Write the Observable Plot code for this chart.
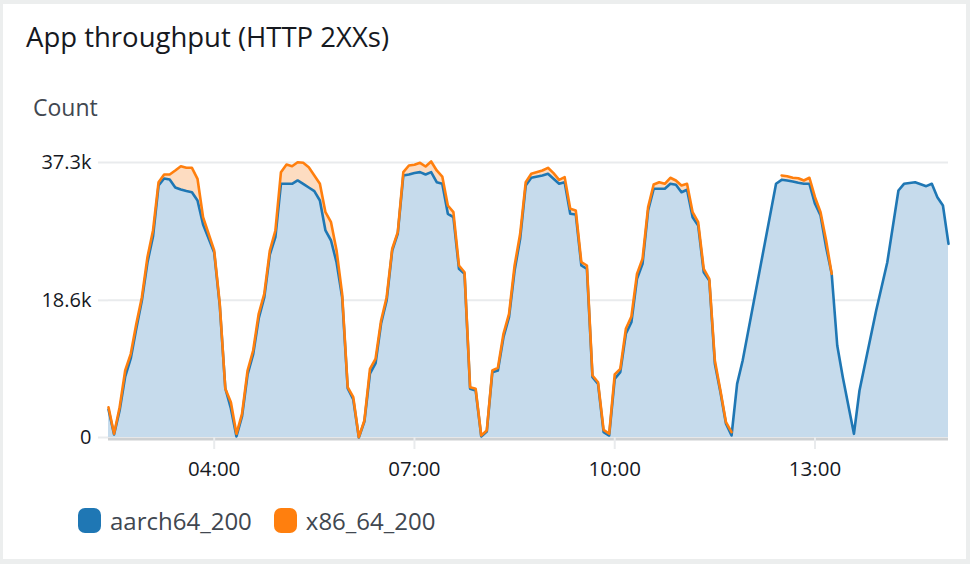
<!DOCTYPE html>
<html>
<head>
<meta charset="utf-8">
<script src="https://cdn.jsdelivr.net/npm/d3@7"></script>
<script src="https://cdn.jsdelivr.net/npm/@observablehq/plot@0.6"></script>
<style>
  html, body { margin: 0; padding: 0; width: 970px; height: 564px; overflow: hidden; background: #eceeee; font-family: "Open Sans", sans-serif; }
  #card { position: absolute; left: 3px; top: 4px; width: 963px; height: 555px; background: #fff; }
  #title { position: absolute; left: 26px; top: 23px; font-size: 27.5px; line-height: 1; color: #16191f; white-space: nowrap; }
  #ylabel { position: absolute; left: 33px; top: 96px; font-size: 23px; line-height: 1; color: #414750; white-space: nowrap; }
  #chart { position: absolute; left: 0; top: 140px; }
  #legend { position: absolute; left: 78px; top: 508px; display: flex; align-items: center; font-size: 24px; line-height: 1; color: #414750; }
  .item { display: flex; align-items: center; margin-right: 22px; }
  .sw { width: 23px; height: 25px; border-radius: 7px; margin-right: 9px; }
</style>
</head>
<body>
<div id="card"></div>
<div id="title">App throughput (HTTP 2XXs)</div>
<div id="ylabel">Count</div>
<div id="chart"></div>
<div id="legend"></div>
<script>
const times = [
  "02:25","02:30","02:35","02:40","02:45","02:50","02:55","03:00","03:05","03:10",
  "03:15","03:20","03:25","03:30","03:35","03:40","03:45","03:50","04:00","04:05",
  "04:10","04:15","04:20","04:25","04:30","04:35","04:40","04:45","04:50","04:55",
  "05:00","05:05","05:10","05:15","05:20","05:25","05:30","05:35","05:40","05:45",
  "05:50","05:55","06:00","06:05","06:10","06:15","06:20","06:25","06:30","06:35",
  "06:40","06:45","06:50","06:55","07:00","07:05","07:10","07:15","07:20","07:25",
  "07:30","07:35","07:40","07:45","07:50","07:55","08:00","08:05","08:10","08:15",
  "08:20","08:25","08:30","08:35","08:40","08:45","08:55","09:00","09:05","09:10",
  "09:15","09:20","09:25","09:30","09:35","09:40","09:45","09:50","09:55","10:00",
  "10:05","10:10","10:15","10:20","10:25","10:30","10:35","10:40","10:45","10:50",
  "10:55","11:00","11:05","11:10","11:15","11:20","11:25","11:30","11:35","11:40",
  "11:45","11:50","11:55","12:25","12:30","12:35","12:40","12:45","12:50","12:55",
  "13:00","13:05","13:10","13:15","13:20","13:25","13:35","13:40","13:45","13:55",
  "14:05","14:15","14:20","14:30","14:40","14:45","14:50","14:55","15:00"
];
const aarch64_200 = [
  3800,400,3660,8270,10720,14780,18580,23740,27260,34180,
  35130,35000,33910,33640,33440,33270,32150,28890,25090,17900,
  6650,3930,140,2850,8550,11260,16140,18990,24820,27170,
  34410,34410,34410,34860,34410,33910,33410,32150,28080,26720,
  23740,19030,6650,5150,0,2170,8680,10040,15460,18580,
  25360,27670,35540,35670,35880,35990,35670,35990,34630,34410,
  30340,29880,22880,22200,6610,6380,140,810,8860,9090,
  13600,16320,22650,26950,34180,35230,35540,35770,35090,34410,
  34630,30340,30250,23330,22880,8180,7280,720,270,7960,
  8860,14070,15640,21530,23560,30790,33730,33730,33730,34410,
  34280,33270,33600,29880,28760,22420,21300,10000,6140,1860,
  270,7280,10440,34410,34950,34860,34720,34550,34410,34410,
  31700,30110,25810,22200,12480,8180,500,6380,10000,17230,
  23780,33500,34410,34630,34090,34410,32590,31470,26270
];
const x86_64_200 = [
  4110,500,4110,9090,11350,15420,19030,24460,28080,34630,
  35670,35670,36220,36800,36580,36580,35090,29880,25360,18140,
  6610,4790,500,3210,9090,11800,16780,19490,25360,28080,
  35990,37030,36800,37340,37260,36660,35540,34410,30560,29200,
  25360,19490,6820,5470,40,2310,9320,10670,15870,19030,
  25600,27850,35990,36890,36990,37260,36760,37440,36220,35400,
  31470,30560,23330,22420,6820,6610,270,950,9090,9450,
  14070,16780,23330,27630,34630,35770,36220,36580,35850,34950,
  35310,31020,30790,23780,23330,8410,7500,1040,500,8550,
  9320,14740,16410,22200,24240,31240,34320,34630,34410,35230,
  34860,34180,34410,30560,29200,22880,21530,10440,6380,2080,
  720,null,null,null,35540,35440,35230,35170,34860,35230,
  32590,30560,26720,22200,null,null,null,null,null,null,
  null,null,null,null,null,null,null,null,null
];
const seriesNames = ["aarch64_200", "x86_64_200"];
const seriesColors = ["#1f77b4", "#ff7f0e"];
const yTicks = [0, 18600, 37300];
const yTickLabels = ["0", "18.6k", "37.3k"];
const xTicks = ["04:00", "07:00", "10:00", "13:00"];
const xDomain = ["02:25", "15:00"];

const toDate = s => { const [h, m] = s.split(":").map(Number); return new Date(Date.UTC(2024, 0, 1, h, m)); };
const rows = times.map((t, i) => ({ t: toDate(t), a: aarch64_200[i], b: x86_64_200[i] }));

const chart = Plot.plot({
  width: 970,
  height: 350,
  marginLeft: 108,
  marginRight: 22,
  marginTop: 22,
  marginBottom: 53,
  style: { fontFamily: "Open Sans", fontSize: "20px", color: "#16191f", background: "transparent", overflow: "visible" },
  x: { type: "utc", domain: xDomain.map(toDate) },
  y: { domain: [0, 37300] },
  marks: [
    Plot.ruleY(yTicks.slice(1), { stroke: "#e9ebed", strokeWidth: 2 }),
    Plot.areaY(rows, { x: "t", y: "b", fill: "#fddcc1" }),
    Plot.areaY(rows, { x: "t", y: "a", fill: "#c6dbec" }),
    Plot.ruleY([0], { stroke: "#cdd0d2", strokeWidth: 3, dy: 1.5 }),
    Plot.lineY(rows, { x: "t", y: "a", stroke: seriesColors[0], strokeWidth: 2.6 }),
    Plot.lineY(rows, { x: "t", y: "b", stroke: seriesColors[1], strokeWidth: 2.6 }),
    Plot.axisY({ ticks: yTicks, tickFormat: d => yTickLabels[yTicks.indexOf(d)], tickSize: 10, tickPadding: 7, stroke: "#e9ebed", strokeWidth: 2, label: null }),
    Plot.axisX({ ticks: xTicks.map(toDate), tickFormat: d => xTicks[xTicks.map(s => +toDate(s)).indexOf(+d)], tickSize: 12, tickPadding: 12, fontSize: 20.5, stroke: "#e9ebed", strokeWidth: 2, label: null })
  ]
});
document.getElementById("chart").appendChild(chart);

const legend = document.getElementById("legend");
seriesNames.forEach((n, i) => {
  const it = document.createElement("div");
  it.className = "item";
  const sw = document.createElement("span");
  sw.className = "sw";
  sw.style.background = seriesColors[i];
  const tx = document.createElement("span");
  tx.textContent = n;
  it.appendChild(sw); it.appendChild(tx);
  legend.appendChild(it);
});
</script>
</body>
</html>
